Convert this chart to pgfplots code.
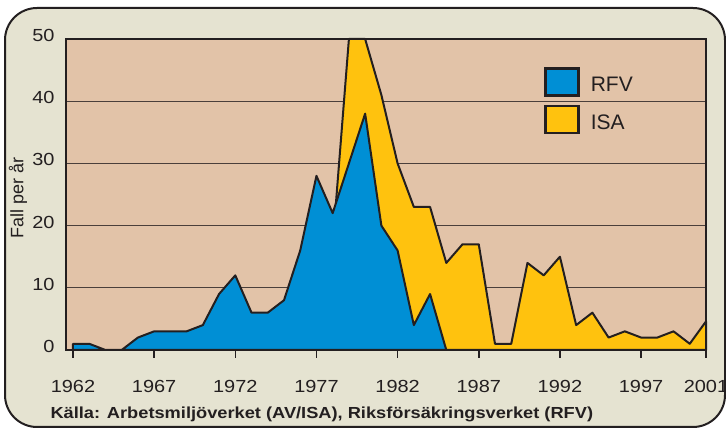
\documentclass[border=0pt]{standalone}
\usepackage{fontspec}
\setmainfont{Liberation Sans}
\newfontfamily\widesans[FakeStretch=1.14]{Liberation Sans}
\usepackage{pgfplots}
\pgfplotsset{compat=1.18}
\definecolor{framebg}{HTML}{E5E3D1}
\definecolor{plotbg}{HTML}{E2C3A8}
\definecolor{rfv}{HTML}{008FD5}
\definecolor{isa}{HTML}{FFC20E}
\definecolor{ink}{HTML}{231F20}
\definecolor{gridc}{HTML}{4A3F3B}
\begin{document}
\begin{tikzpicture}[x=1pt,y=1pt]
\draw[line width=2pt, ink, fill=framebg, rounded corners=32pt] (5,1) rectangle (725,420);
\begin{axis}[
  at={(66pt,78pt)}, anchor=south west,
  scale only axis, width=640pt, height=311pt,
  xmin=1961.57, xmax=2001, ymin=0, ymax=50,
  axis background/.style={fill=plotbg},
  axis line style={ink, line width=1.8pt},
  xtick={1962,1967,1972,1977,1982,1987,1992,1997,2001},
  ytick={0,10,20,30,40,50},
  ymajorgrids, grid style={gridc, line width=1pt},
  tick align=outside,
  major tick length=8pt,
  xtick pos=lower, ytick pos=left,
  xtick style={ink, line width=1.5pt},
  ytick style={draw=none},
  /pgf/number format/assume math mode=true,
  /pgf/number format/1000 sep={},
  ticklabel style={font=\widesans\fontsize{17.5}{17.5}\selectfont, text=ink},
  xticklabel style={anchor=base, yshift=-35pt},
  yticklabel style={anchor=east, xshift=0pt, yshift=3.5pt},
  ylabel={Fall per år},
  every axis y label/.style={at={(axis description cs:-0.075,0.49)}, rotate=90, anchor=center,
    font=\fontsize{18}{18}\selectfont, text=ink},
  clip=false,
  legend style={at={(axis description cs:0.747,0.91)}, anchor=north west, draw=none, fill=none,
    font=\fontsize{21}{21}\selectfont, inner sep=0pt, row sep=8pt, text=ink,
    /tikz/every odd column/.append style={column sep=9pt}},
  legend cell align=left,
  legend image code/.code={\draw[#1, draw=ink, line width=2.5pt] (0pt,-10pt) rectangle (33pt,17pt);},
]
\addlegendimage{fill=rfv}
\addlegendentry{RFV}
\addlegendimage{fill=isa}
\addlegendentry{ISA}
% ISA (total incl. RFV), drawn behind
\addplot[fill=isa, draw=ink, line width=2pt, line join=round, forget plot] coordinates {
(1978,17) (1979,50) (1980,50) (1981,41) (1982,30) (1983,23) (1984,23) (1985,14)
(1986,17) (1987,17) (1988,1) (1989,1) (1990,14) (1991,12) (1992,15) (1993,4)
(1994,6) (1995,2) (1996,3) (1997,2) (1998,2) (1999,3) (2000,1) (2001,4.6)
} \closedcycle;
% RFV
\addplot[fill=rfv, draw=ink, line width=2pt, line join=round, forget plot] coordinates {
(1962,1) (1963,1) (1964,0) (1965,0) (1966,2) (1967,3) (1968,3) (1969,3)
(1970,4) (1971,9) (1972,12) (1973,6) (1974,6) (1975,8) (1976,16) (1977,28)
(1978,22) (1979,30) (1980,38) (1981,20) (1982,16) (1983,4) (1984,9) (1985,0)
} \closedcycle;
\end{axis}
\node[anchor=base west, font=\widesans\bfseries\fontsize{16}{16}\selectfont, text=ink] at (47pt,9.7pt) {Källa: Arbetsmiljöverket (AV/ISA), Riksförsäkringsverket (RFV)};
\pgfresetboundingbox
\useasboundingbox (0,0) rectangle (726,428);
\end{tikzpicture}
\end{document}
